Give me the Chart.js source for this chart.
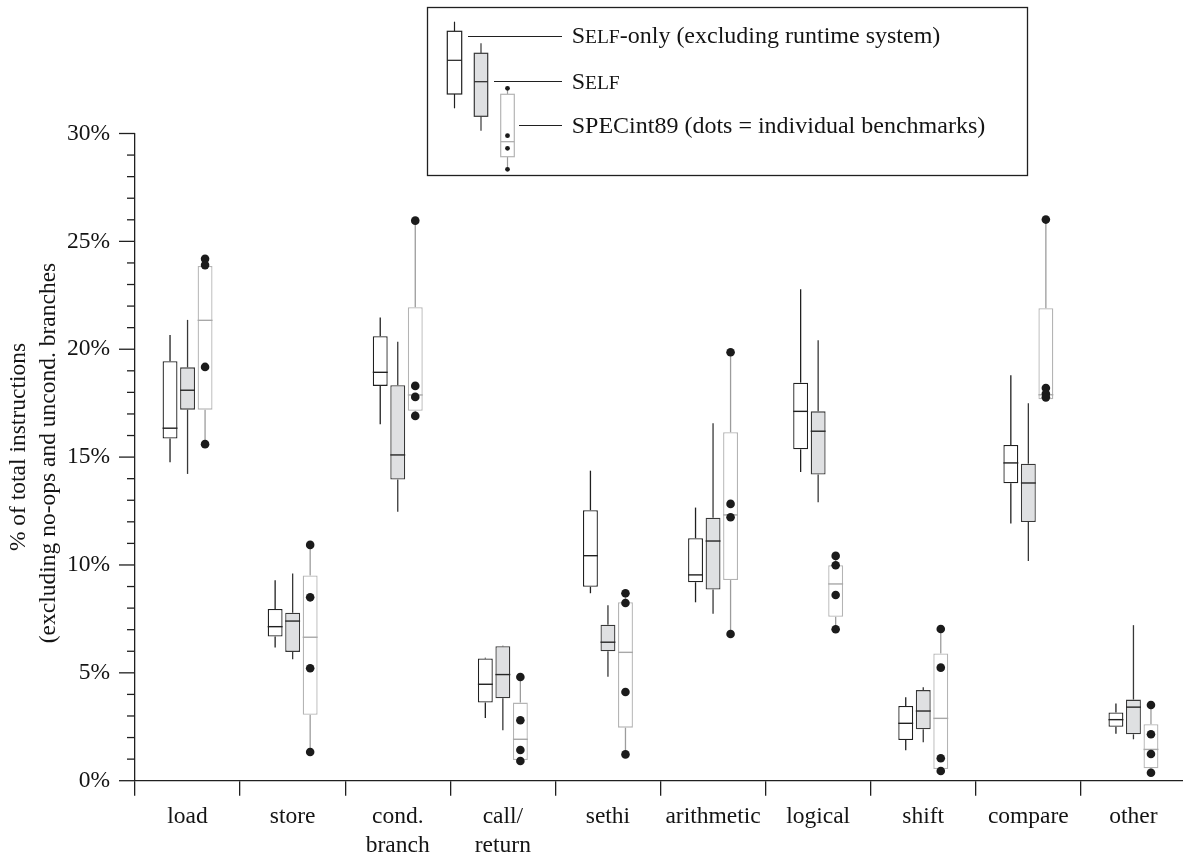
<!DOCTYPE html>
<html>
<head>
<meta charset="utf-8">
<script src="https://cdn.jsdelivr.net/npm/chart.js@4.4.1/dist/chart.umd.min.js"></script>
<style>
  html, body { margin: 0; padding: 0; background: #fff; overflow: hidden; }
  #wrap { width: 1183px; height: 858px; overflow: hidden; }
</style>
</head>
<body>
<div id="wrap"><canvas id="boxChart" width="1186" height="858"></canvas></div>
<script>
// instruction mix box plots: SELF-only, SELF, SPECint89

const categories = [['load'], ['store'], ['cond.', 'branch'], ['call/', 'return'], ['sethi'],
  ['arithmetic'], ['logical'], ['shift'], ['compare'], ['other']];

const selfOnlyMin = [14.76, 6.18, 16.52, 2.91, 8.69, 8.27, 14.31, 1.41, 11.92, 2.18];
const selfOnlyQ1  = [15.86, 6.68, 18.30, 3.62, 8.99, 9.20, 15.36, 1.89, 13.79, 2.50];
const selfOnlyMed = [16.34, 7.14, 18.93, 4.47, 10.43, 9.54, 17.12, 2.66, 14.73, 2.83];
const selfOnlyQ3  = [19.44, 7.96, 20.60, 5.67, 12.54, 11.24, 18.45, 3.46, 15.56, 3.16];
const selfOnlyMax = [20.66, 9.29, 21.47, 5.70, 14.37, 12.66, 22.78, 3.87, 18.79, 3.58];

const selfMin = [14.22, 5.63, 12.47, 2.34, 4.82, 7.74, 12.91, 1.78, 10.18, 1.92];
const selfQ1  = [17.20, 5.97, 13.96, 3.82, 6.00, 8.86, 14.19, 2.38, 11.99, 2.15];
const selfMed = [18.10, 7.40, 15.10, 4.92, 6.42, 11.11, 16.20, 3.23, 13.80, 3.41];
const selfQ3  = [19.16, 7.79, 18.33, 6.23, 7.23, 12.19, 17.12, 4.20, 14.69, 3.76];
const selfMax = [21.36, 9.61, 20.35, 6.26, 8.13, 16.57, 20.42, 4.33, 17.50, 7.21];

const specQ1  = [17.20, 3.06, 17.15, 0.96, 2.46, 9.30, 7.60, 0.54, 17.68, 0.58];
const specMed = [21.34, 6.65, 17.88, 1.92, 5.95, 12.32, 9.12, 2.89, 17.89, 1.45];
const specQ3  = [23.86, 9.51, 21.95, 3.62, 8.27, 16.15, 9.99, 5.90, 21.90, 2.62];
// one dot per SPECint89 benchmark
const specBench = [
  [24.19, 23.90, 19.18, 15.60], [10.93, 8.50, 5.21, 1.33], [25.96, 18.30, 17.79, 16.91],
  [4.81, 2.80, 1.42, 0.91], [8.69, 8.24, 4.11, 1.22], [19.86, 12.83, 12.21, 6.80],
  [10.42, 9.99, 8.61, 7.02], [7.03, 5.24, 1.04, 0.45], [26.01, 18.20, 17.94, 17.77],
  [3.51, 2.15, 1.24, 0.37]
];

const yTicks = [0, 5, 10, 15, 20, 25, 30];

const SERIF = "'Liberation Serif', 'Times New Roman', serif";
const INK = '#202020';
const TEXT = '#141414';

const styles = [
  { fill: '#ffffff', edge: '#202020', whisker: '#202020', median: '#202020' },
  { fill: '#dfe0e2', edge: '#383838', whisker: '#383838', median: '#262626' },
  { fill: '#ffffff', edge: '#b4b4b4', whisker: '#9c9c9c', median: '#a8a8a8' }
];

function stats(d) {
  if (d === 0) return { lo: selfOnlyMin, med: selfOnlyMed, hi: selfOnlyMax };
  if (d === 1) return { lo: selfMin, med: selfMed, hi: selfMax };
  return {
    lo: specBench.map(b => Math.min(...b)),
    med: specMed,
    hi: specBench.map(b => Math.max(...b))
  };
}

function line(ctx, x1, y1, x2, y2, color, w) {
  ctx.beginPath();
  ctx.moveTo(x1, y1);
  ctx.lineTo(x2, y2);
  ctx.strokeStyle = color;
  ctx.lineWidth = w;
  ctx.stroke();
}

function dot(ctx, x, y, r) {
  ctx.beginPath();
  ctx.arc(x, y, r, 0, Math.PI * 2);
  ctx.fillStyle = '#1b1b1b';
  ctx.fill();
}

function drawRuns(ctx, runs, x, y) {
  runs.forEach(([text, size]) => {
    ctx.font = size + 'px ' + SERIF;
    ctx.fillText(text, x, y);
    x += ctx.measureText(text).width;
  });
}

const boxPlot = {
  id: 'boxPlot',
  beforeDatasetsDraw(chart) {
    const { ctx, scales: { y } } = chart;
    ctx.save();
    [0, 1, 2].forEach(d => {
      const s = stats(d);
      const q1 = [selfOnlyQ1, selfQ1, specQ1][d];
      const q3 = [selfOnlyQ3, selfQ3, specQ3][d];
      chart.getDatasetMeta(d).data.forEach((bar, i) => {
        if (s.hi[i] > q3[i]) line(ctx, bar.x, y.getPixelForValue(q3[i]), bar.x, y.getPixelForValue(s.hi[i]), styles[d].whisker, 1.3);
        if (s.lo[i] < q1[i]) line(ctx, bar.x, y.getPixelForValue(q1[i]), bar.x, y.getPixelForValue(s.lo[i]), styles[d].whisker, 1.3);
      });
    });
    ctx.restore();
  },
  afterDatasetsDraw(chart) {
    const { ctx, scales: { y } } = chart;
    ctx.save();
    [0, 1, 2].forEach(d => {
      const s = stats(d);
      chart.getDatasetMeta(d).data.forEach((bar, i) => {
        const half = bar.width / 2;
        const ym = y.getPixelForValue(s.med[i]);
        line(ctx, bar.x - half, ym, bar.x + half, ym, styles[d].median, 1.4);
        if (d === 2) specBench[i].forEach(v => dot(ctx, bar.x, y.getPixelForValue(v), 4.3));
      });
    });
    ctx.restore();
  },
  afterDraw(chart) {
    const { ctx, scales: { y }, chartArea } = chart;
    ctx.save();
    // y tick marks: long every 5 %, short every 1 %
    y.ticks.forEach(t => {
      const py = y.getPixelForValue(t.value);
      const len = yTicks.includes(t.value) ? 16 : 8;
      line(ctx, chartArea.left - len, py, chartArea.left, py, INK, 1.3);
    });

    // y axis title
    ctx.fillStyle = TEXT;
    ctx.textAlign = 'center';
    ctx.textBaseline = 'middle';
    ctx.font = '23.5px ' + SERIF;
    ctx.save();
    ctx.translate(19, 447);
    ctx.rotate(-Math.PI / 2);
    ctx.fillText('% of total instructions', 0, 0);
    ctx.restore();
    ctx.save();
    ctx.translate(49, 453);
    ctx.rotate(-Math.PI / 2);
    ctx.fillText('(excluding no-ops and uncond. branches', 0, 0);
    ctx.restore();

    // legend frame
    ctx.strokeStyle = INK;
    ctx.lineWidth = 1.3;
    ctx.strokeRect(427.5, 7.5, 600, 168);

    // legend glyphs
    const mini = [
      { x: 454.5, w: 14.4, wt: 21.7, bt: 31.3, med: 60.3, bb: 94, wb: 108.3 },
      { x: 481, w: 13.4, wt: 43.3, bt: 53.3, med: 81.7, bb: 116.3, wb: 130.7 },
      { x: 507.5, w: 13.6, wt: 88.3, bt: 94.3, med: 141.7, bb: 156.7, wb: 169.3 }
    ];
    mini.forEach((m, d) => {
      const st = styles[d];
      line(ctx, m.x, m.wt, m.x, m.bt, st.whisker, 1.2);
      line(ctx, m.x, m.bb, m.x, m.wb, st.whisker, 1.2);
      ctx.fillStyle = st.fill;
      ctx.fillRect(m.x - m.w / 2, m.bt, m.w, m.bb - m.bt);
      ctx.strokeStyle = st.edge;
      ctx.lineWidth = 1.2;
      ctx.strokeRect(m.x - m.w / 2, m.bt, m.w, m.bb - m.bt);
      line(ctx, m.x - m.w / 2, m.med, m.x + m.w / 2, m.med, st.median, 1.2);
    });
    [88.3, 135.7, 148.3, 169.3].forEach(v => dot(ctx, 507.5, v, 2.4));

    line(ctx, 468, 36.5, 562, 36.5, INK, 1);
    line(ctx, 494, 81.5, 562, 81.5, INK, 1);
    line(ctx, 519, 125.5, 562, 125.5, INK, 1);

    ctx.fillStyle = TEXT;
    ctx.textAlign = 'left';
    ctx.textBaseline = 'alphabetic';
    drawRuns(ctx, [['S', 24], ['ELF', 19.5], ['-only (excluding runtime system)', 24]], 571.7, 43);
    drawRuns(ctx, [['S', 24], ['ELF', 19.5]], 571.7, 89);
    drawRuns(ctx, [['SPECint89 (dots = individual benchmarks)', 24]], 571.7, 133);
    ctx.restore();
  }
};

const boxes = (q1, q3) => q1.map((v, i) => [v, q3[i]]);

new Chart(document.getElementById('boxChart'), {
  type: 'bar',
  data: {
    labels: categories,
    datasets: [
      { label: 'SELF-only (excluding runtime system)', data: boxes(selfOnlyQ1, selfOnlyQ3) },
      { label: 'SELF', data: boxes(selfQ1, selfQ3) },
      { label: 'SPECint89 (dots = individual benchmarks)', data: boxes(specQ1, specQ3) }
    ].map((ds, d) => Object.assign(ds, {
      backgroundColor: styles[d].fill,
      borderColor: styles[d].edge,
      borderWidth: 1.3,
      borderSkipped: false,
      categoryPercentage: 0.5,
      barPercentage: 0.85
    }))
  },
  options: {
    responsive: false,
    animation: false,
    layout: { padding: { top: 133.5, left: 0, right: 0, bottom: 0 } },
    plugins: { legend: { display: false }, tooltip: { enabled: false } },
    scales: {
      x: {
        offset: true,
        grid: { display: true, offset: true, drawOnChartArea: false, drawTicks: true, tickLength: 15, color: INK, lineWidth: 1.3 },
        border: { display: true, color: INK, width: 1.3 },
        ticks: {
          color: TEXT,
          font: { family: SERIF, size: 23.5, lineHeight: 1.25 },
          padding: 6,
          maxRotation: 0,
          autoSkip: false
        },
        afterFit: s => { s.height = 858 - 780.7; }
      },
      y: {
        min: 0,
        max: 30,
        grid: { display: false, drawTicks: false },
        border: { display: true, color: INK, width: 1.3 },
        ticks: {
          stepSize: 1,
          autoSkip: false,
          padding: 25,
          color: TEXT,
          font: { family: SERIF, size: 23.5 },
          callback: v => yTicks.includes(v) ? v + '%' : ''
        },
        afterFit: s => { s.width = 135; }
      }
    }
  },
  plugins: [boxPlot]
});
</script>
</body>
</html>
